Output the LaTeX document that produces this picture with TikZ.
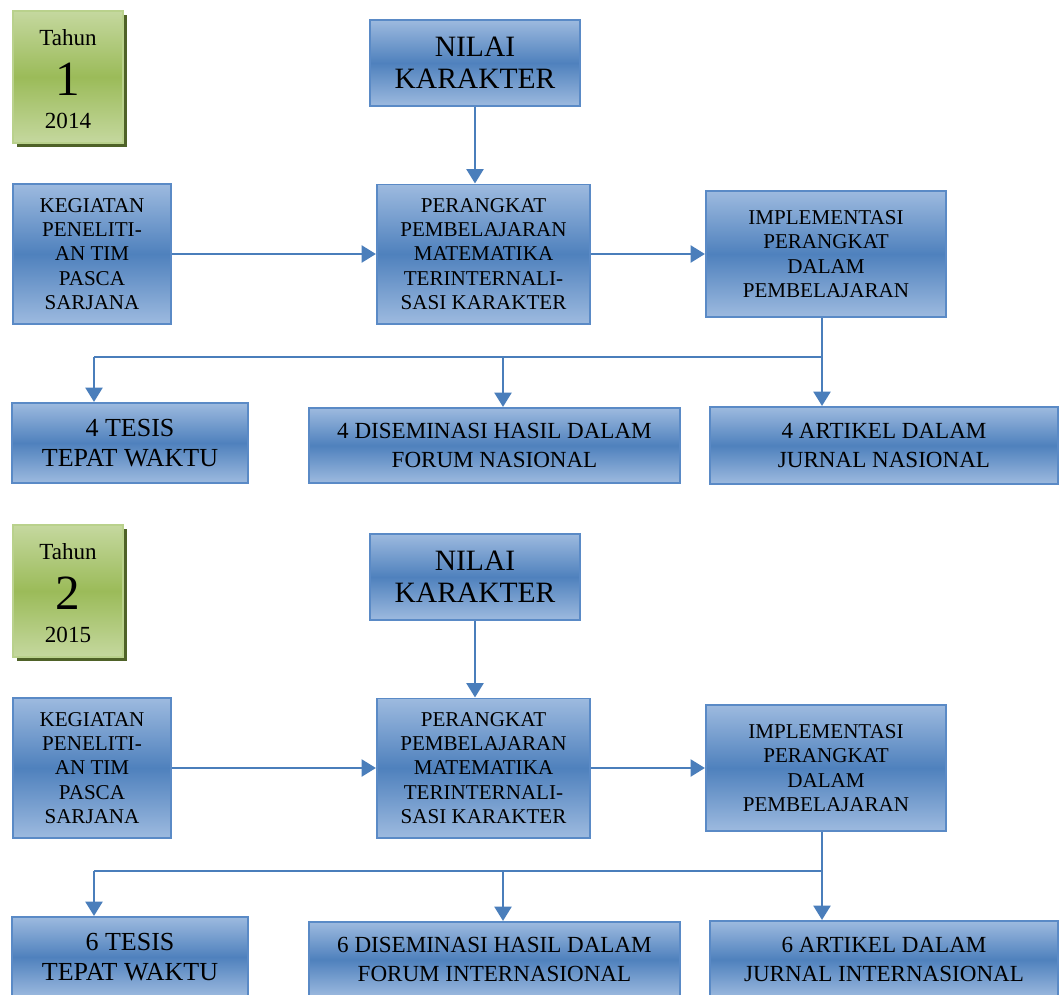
\documentclass[tikz,border=0pt]{standalone}
\usepackage{fontspec}
\setmainfont{Liberation Serif}
\usetikzlibrary{arrows.meta,positioning,shadows}
\tikzset{>=Stealth}
\definecolor{boxlight}{HTML}{9DBADF}
\definecolor{boxmid}{HTML}{4F81BD}
\definecolor{boxline}{HTML}{5A8AC6}
\definecolor{arrowblue}{HTML}{4A7EBB}
\definecolor{greenlight}{HTML}{C5D89F}
\definecolor{greenmid}{HTML}{9BBB59}
\definecolor{greenline}{HTML}{B9D18C}
\definecolor{greenshadow}{HTML}{4F6228}

\begin{document}
\begin{tikzpicture}[
    x=0.025cm, y=-0.025cm,
    bluebox/.style={rectangle, draw=boxline, line width=1.4pt, top color=boxlight, bottom color=boxlight, middle color=boxmid, align=center, inner sep=0pt},
    yearbox/.style={rectangle, draw=greenline, line width=1.4pt, top color=greenlight, bottom color=greenlight, middle color=greenmid, minimum width=2.75cm, minimum height=3.3cm, drop shadow={shadow xshift=0.1cm, shadow yshift=-0.1cm, fill=greenshadow, opacity=1}},
    smalltext/.style={font=\fontsize{15}{17.3}\selectfont},
    bigtext/.style={font=\fontsize{21}{23}\selectfont},
    tesistext/.style={font=\fontsize{18.5}{21.3}\selectfont},
    outtext/.style={font=\fontsize{16.4}{20.5}\selectfont},
    yeartext/.style={font=\fontsize{16.4}{19}\selectfont, anchor=base},
    arrow/.style={-{Triangle[width=0.42cm,length=0.36cm]}, line width=2.1pt, draw=arrowblue, fill=arrowblue},
    line/.style={line width=2.1pt, draw=arrowblue}
]
    \useasboundingbox (0,0) rectangle (1059,994);

    % tahun 1
    \node[yearbox] (tahun1) at (68,77) {};
    \node[yeartext] (tahunlbl1) at (68,45) {Tahun};
    \node[font=\fontsize{35}{36}\selectfont, anchor=base] (nomor1) at (68,95) {1};
    \node[yeartext] (year1) at (68,128) {2014};

    \node[bluebox, bigtext, minimum width=5.25cm, minimum height=2.15cm] (nilai1) at (475,63) {NILAI\\KARAKTER};
    \node[bluebox, smalltext, minimum width=3.95cm, minimum height=3.5cm] (keg1) at (92,254) {KEGIATAN\\PENELITI-\\AN TIM\\PASCA\\SARJANA};
    \node[bluebox, smalltext, minimum width=5.325cm, minimum height=3.475cm] (pm1) at (483.5,254) {PERANGKAT\\PEMBELAJARAN\\MATEMATIKA\\TERINTERNALI-\\SASI KARAKTER};
    \node[bluebox, smalltext, minimum width=6cm, minimum height=3.15cm] (impl1) at (826,254) {IMPLEMENTASI\\PERANGKAT\\DALAM\\PEMBELAJARAN};
    \node[bluebox, tesistext, minimum width=5.875cm, minimum height=2cm] (tesis1) at (130,443) {4 TESIS\\TEPAT WAKTU};
    \node[bluebox, outtext, minimum width=9.275cm, minimum height=1.875cm] (disem1) at (494.5,445.5) {4 DISEMINASI HASIL DALAM\\FORUM NASIONAL};
    \node[bluebox, outtext, minimum width=8.7cm, minimum height=1.925cm] (artikel1) at (884,445.5) {4 ARTIKEL DALAM\\JURNAL NASIONAL};

    \coordinate (split1) at (822,357);
    \coordinate (left1) at (94,357);
    \coordinate (mid1) at (503,357);

    \draw[arrow] (nilai1) -- (nilai1 |- pm1.north);
    \draw[arrow] (keg1) -- (pm1);
    \draw[arrow] (pm1) -- (impl1);
    \draw[line] (impl1.south -| split1) -- (split1) -- (left1);
    \draw[arrow] (left1) -- (left1 |- tesis1.north);
    \draw[arrow] (mid1) -- (mid1 |- disem1.north);
    \draw[arrow] (split1) -- (split1 |- artikel1.north);

    % tahun 2
    \node[yearbox] (tahun2) at (68,591) {};
    \node[yeartext] (tahunlbl2) at (68,559) {Tahun};
    \node[font=\fontsize{35}{36}\selectfont, anchor=base] (nomor2) at (68,609) {2};
    \node[yeartext] (year2) at (68,642) {2015};

    \node[bluebox, bigtext, minimum width=5.25cm, minimum height=2.15cm] (nilai2) at (475,577) {NILAI\\KARAKTER};
    \node[bluebox, smalltext, minimum width=3.95cm, minimum height=3.5cm] (keg2) at (92,768) {KEGIATAN\\PENELITI-\\AN TIM\\PASCA\\SARJANA};
    \node[bluebox, smalltext, minimum width=5.325cm, minimum height=3.475cm] (pm2) at (483.5,768) {PERANGKAT\\PEMBELAJARAN\\MATEMATIKA\\TERINTERNALI-\\SASI KARAKTER};
    \node[bluebox, smalltext, minimum width=6cm, minimum height=3.15cm] (impl2) at (826,768) {IMPLEMENTASI\\PERANGKAT\\DALAM\\PEMBELAJARAN};
    \node[bluebox, tesistext, minimum width=5.875cm, minimum height=2cm] (tesis2) at (130,957) {6 TESIS\\TEPAT WAKTU};
    \node[bluebox, outtext, minimum width=9.275cm, minimum height=1.875cm] (disem2) at (494.5,959.5) {6 DISEMINASI HASIL DALAM\\FORUM INTERNASIONAL};
    \node[bluebox, outtext, minimum width=8.7cm, minimum height=1.925cm] (artikel2) at (884,959.5) {6 ARTIKEL DALAM\\JURNAL INTERNASIONAL};

    \coordinate (split2) at (822,871);
    \coordinate (left2) at (94,871);
    \coordinate (mid2) at (503,871);

    \draw[arrow] (nilai2) -- (nilai2 |- pm2.north);
    \draw[arrow] (keg2) -- (pm2);
    \draw[arrow] (pm2) -- (impl2);
    \draw[line] (impl2.south -| split2) -- (split2) -- (left2);
    \draw[arrow] (left2) -- (left2 |- tesis2.north);
    \draw[arrow] (mid2) -- (mid2 |- disem2.north);
    \draw[arrow] (split2) -- (split2 |- artikel2.north);
\end{tikzpicture}
\end{document}
